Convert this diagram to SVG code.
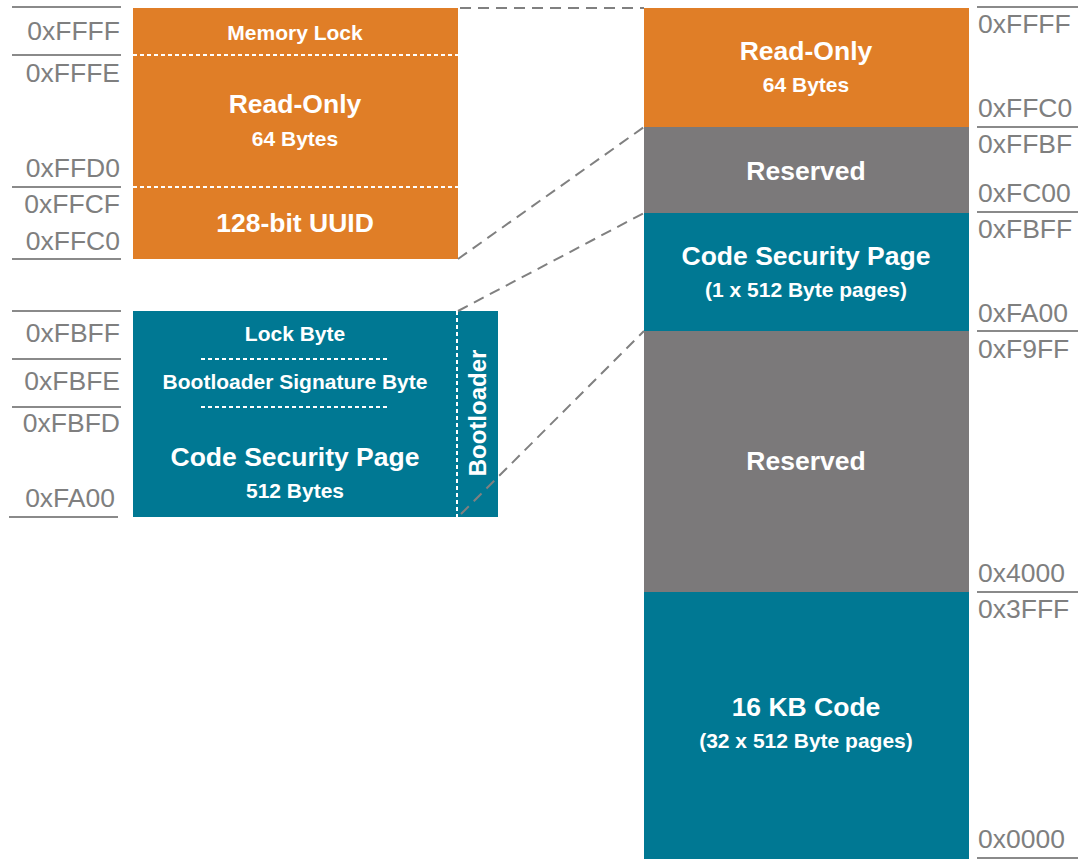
<svg xmlns="http://www.w3.org/2000/svg" width="1078" height="859" viewBox="0 0 1078 859">
<style>
.addr{font-family:"Liberation Sans",Arial,sans-serif;font-size:26.5px;fill:#7f7f7f}
.r{text-anchor:end}
.t{font-family:"Liberation Sans",Arial,sans-serif;font-weight:bold;fill:#fff;text-anchor:middle}
.big{font-size:26.5px}
.sm{font-size:21px}
.tick{stroke:#8a8a8a;stroke-width:2}
.dot{stroke:#fff;stroke-width:2;stroke-dasharray:4 3;fill:none}
.conn{stroke:#808080;stroke-width:2;stroke-dasharray:11 7;fill:none}
.or{fill:#E07E27}.tl{fill:#007893}.gr{fill:#7B797A}
</style>
<rect width="1078" height="859" fill="#fff"/>
<g id="left-top-block">
<rect class="or" x="133" y="8" width="325" height="251"/>
<line class="dot" x1="133" y1="55" x2="458" y2="55"/>
<line class="dot" x1="133" y1="187" x2="458" y2="187"/>
<text class="t sm" x="295" y="40">Memory Lock</text>
<text class="t big" x="295" y="113">Read-Only</text>
<text class="t sm" x="295" y="146">64 Bytes</text>
<text class="t big" x="295" y="232">128-bit UUID</text>
</g>
<g id="left-top-addr">
<line class="tick" x1="12" y1="7" x2="121" y2="7"/>
<line class="tick" x1="12" y1="55" x2="121" y2="55"/>
<line class="tick" x1="12" y1="187" x2="121" y2="187"/>
<line class="tick" x1="12" y1="259" x2="121" y2="259"/>
<text class="addr r" x="120" y="40">0xFFFF</text>
<text class="addr r" x="120" y="82">0xFFFE</text>
<text class="addr r" x="120" y="177">0xFFD0</text>
<text class="addr r" x="120" y="213">0xFFCF</text>
<text class="addr r" x="120" y="250">0xFFC0</text>
</g>
<g id="left-bottom-block">
<rect class="tl" x="133" y="311" width="365" height="206"/>
<line class="dot" x1="457" y1="311" x2="457" y2="517"/>
<line class="dot" x1="201" y1="359" x2="389" y2="359"/>
<line class="dot" x1="201" y1="407" x2="389" y2="407"/>
<text class="t sm" x="295" y="341">Lock Byte</text>
<text class="t sm" x="295" y="389">Bootloader Signature Byte</text>
<text class="t big" x="295" y="466">Code Security Page</text>
<text class="t sm" x="295" y="498">512 Bytes</text>
<text class="t" style="font-size:24px" transform="translate(486,413) rotate(-90)">Bootloader</text>
</g>
<g id="left-bottom-addr">
<line class="tick" x1="12" y1="311" x2="121" y2="311"/>
<line class="tick" x1="12" y1="359" x2="121" y2="359"/>
<line class="tick" x1="12" y1="407" x2="121" y2="407"/>
<line class="tick" x1="9" y1="517" x2="118" y2="517"/>
<text class="addr r" x="120" y="342">0xFBFF</text>
<text class="addr r" x="120" y="390">0xFBFE</text>
<text class="addr r" x="120" y="432">0xFBFD</text>
<text class="addr r" x="115" y="507">0xFA00</text>
</g>
<g id="right-readonly">
<rect class="or" x="644" y="8" width="325" height="119"/>
<text class="t big" x="806" y="60">Read-Only</text>
<text class="t sm" x="806" y="92">64 Bytes</text>
</g>
<g id="right-reserved-1">
<rect class="gr" x="644" y="127" width="325" height="86"/>
<text class="t big" x="806" y="180">Reserved</text>
</g>
<g id="right-csp">
<rect class="tl" x="644" y="213" width="325" height="118"/>
<text class="t big" x="806" y="265">Code Security Page</text>
<text class="t sm" x="806" y="297">(1 x 512 Byte pages)</text>
</g>
<g id="right-reserved-2">
<rect class="gr" x="644" y="331" width="325" height="261"/>
<text class="t big" x="806" y="470">Reserved</text>
</g>
<g id="right-code">
<rect class="tl" x="644" y="592" width="325" height="267"/>
<text class="t big" x="806" y="716">16 KB Code</text>
<text class="t sm" x="806" y="748">(32 x 512 Byte pages)</text>
</g>
<g id="right-addr">
<line class="tick" x1="977" y1="7" x2="1078" y2="7"/>
<line class="tick" x1="977" y1="127" x2="1078" y2="127"/>
<line class="tick" x1="977" y1="212" x2="1078" y2="212"/>
<line class="tick" x1="977" y1="331" x2="1078" y2="331"/>
<line class="tick" x1="977" y1="592" x2="1078" y2="592"/>
<line class="tick" x1="977" y1="858" x2="1078" y2="858"/>
<text class="addr" x="978" y="33">0xFFFF</text>
<text class="addr" x="978" y="117">0xFFC0</text>
<text class="addr" x="978" y="153">0xFFBF</text>
<text class="addr" x="978" y="202">0xFC00</text>
<text class="addr" x="978" y="238">0xFBFF</text>
<text class="addr" x="978" y="322">0xFA00</text>
<text class="addr" x="978" y="358">0xF9FF</text>
<text class="addr" x="978" y="582">0x4000</text>
<text class="addr" x="978" y="618">0x3FFF</text>
<text class="addr" x="978" y="848">0x0000</text>
</g>
<g id="connectors">
<line class="conn" x1="460" y1="8" x2="644" y2="8"/>
<line class="conn" x1="458" y1="259" x2="644" y2="127"/>
<line class="conn" x1="458" y1="311" x2="644" y2="213"/>
<line class="conn" x1="461" y1="514" x2="644" y2="331"/>
</g>
</svg>
